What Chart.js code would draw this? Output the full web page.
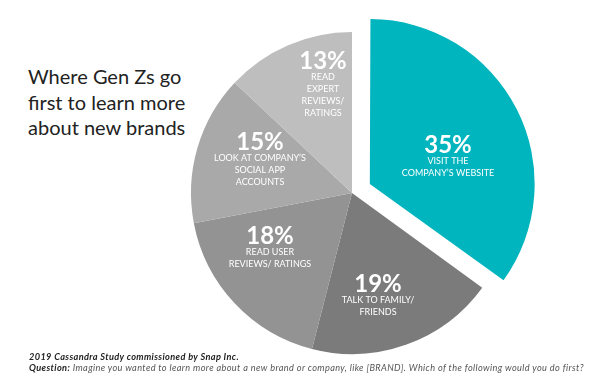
<!DOCTYPE html>
<html lang="en">
<head>
    <meta charset="UTF-8">
    <title>Where Gen Zs go first</title>
    <script src="https://cdn.jsdelivr.net/npm/chart.js"></script>
    <style>
        body {
            margin: 0;
            background-color: white;
            width: 612px;
            height: 389px;
            position: relative;
            overflow: hidden;
            font-family: Lato, "Noto Sans", sans-serif;
        }
        .title {
            position: absolute;
            left: 28px;
            top: 64px;
            font-size: 20px;
            line-height: 25.5px;
            color: #222;
        }
        .chart-box {
            position: absolute;
            left: 151px;
            top: -8px;
            width: 402px;
            height: 402px;
        }
        .footer {
            position: absolute;
            left: 29px;
            top: 351px;
            font-size: 9.2px;
            line-height: 11px;
            letter-spacing: 0.37px;
            font-style: italic;
            color: #555;
        }
        .footer b {
            color: #222;
        }
    </style>
</head>
<body>

<div class="title">Where Gen Zs go<br>first to learn more<br>about new brands</div>

<div class="chart-box">
    <canvas id="pieChart"></canvas>
</div>

<div class="footer">
    <b>2019 Cassandra Study commissioned by Snap Inc.</b><br>
    <b>Question:</b> Imagine you wanted to learn more about a new brand or company, like [BRAND]. Which of the following would you do first?
</div>

<script>
    // data
    const categories = ['Visit the company\u2019s website', 'Talk to family/ friends', 'Read user reviews/ ratings',
        'Look at company\u2019s social app accounts', 'Read expert reviews/ ratings'];
    const shares = [35, 19, 18, 15, 13];
    const labelLines = [
        ['VISIT THE', 'COMPANY\u2019S WEBSITE'],
        ['TALK TO FAMILY/', 'FRIENDS'],
        ['READ USER', 'REVIEWS/ RATINGS'],
        ['LOOK AT COMPANY\u2019S', 'SOCIAL APP', 'ACCOUNTS'],
        ['READ', 'EXPERT', 'REVIEWS/', 'RATINGS']
    ];

    const colors = ['#00b5be', '#7b7b7b', '#939393', '#a9a9a9', '#bebebe'];
    // where each label block starts (percent line), relative to the pie centre
    const labelShift = [[96, -48], [26, 91], [-82, 43], [-92, -51], [-29, -132]];

    const sliceLabels = {
        id: 'sliceLabels',
        afterDatasetsDraw(chart) {
            const c = chart.ctx;
            const arcs = chart.getDatasetMeta(0).data;
            c.save();
            c.fillStyle = 'white';
            c.textAlign = 'center';
            c.textBaseline = 'middle';
            arcs.forEach((arc, i) => {
                const x = arc.x + labelShift[i][0];
                let y = arc.y + labelShift[i][1];
                c.font = 'bold 24px Lato, sans-serif';
                c.fillText(shares[i] + '%', x, y);
                y += 16;
                c.font = '9px Lato, sans-serif';
                labelLines[i].forEach(line => {
                    c.fillText(line, x, y);
                    y += 12;
                });
            });
            c.restore();
        }
    };

    const ctx = document.getElementById('pieChart').getContext('2d');
    const pieChart = new Chart(ctx, {
        type: 'pie',
        data: {
            labels: categories,
            datasets: [{
                data: shares,
                backgroundColor: colors,
                borderWidth: 0,
                // chart.js moves an arc by offset / 4
                offset: [80, 0, 0, 0, 0]
            }]
        },
        options: {
            responsive: true,
            maintainAspectRatio: false,
            animation: false,
            radius: 161,
            layout: { padding: 0 },
            plugins: {
                legend: { display: false },
                tooltip: { enabled: false }
            }
        },
        plugins: [sliceLabels]
    });
</script>
</body>
</html>
